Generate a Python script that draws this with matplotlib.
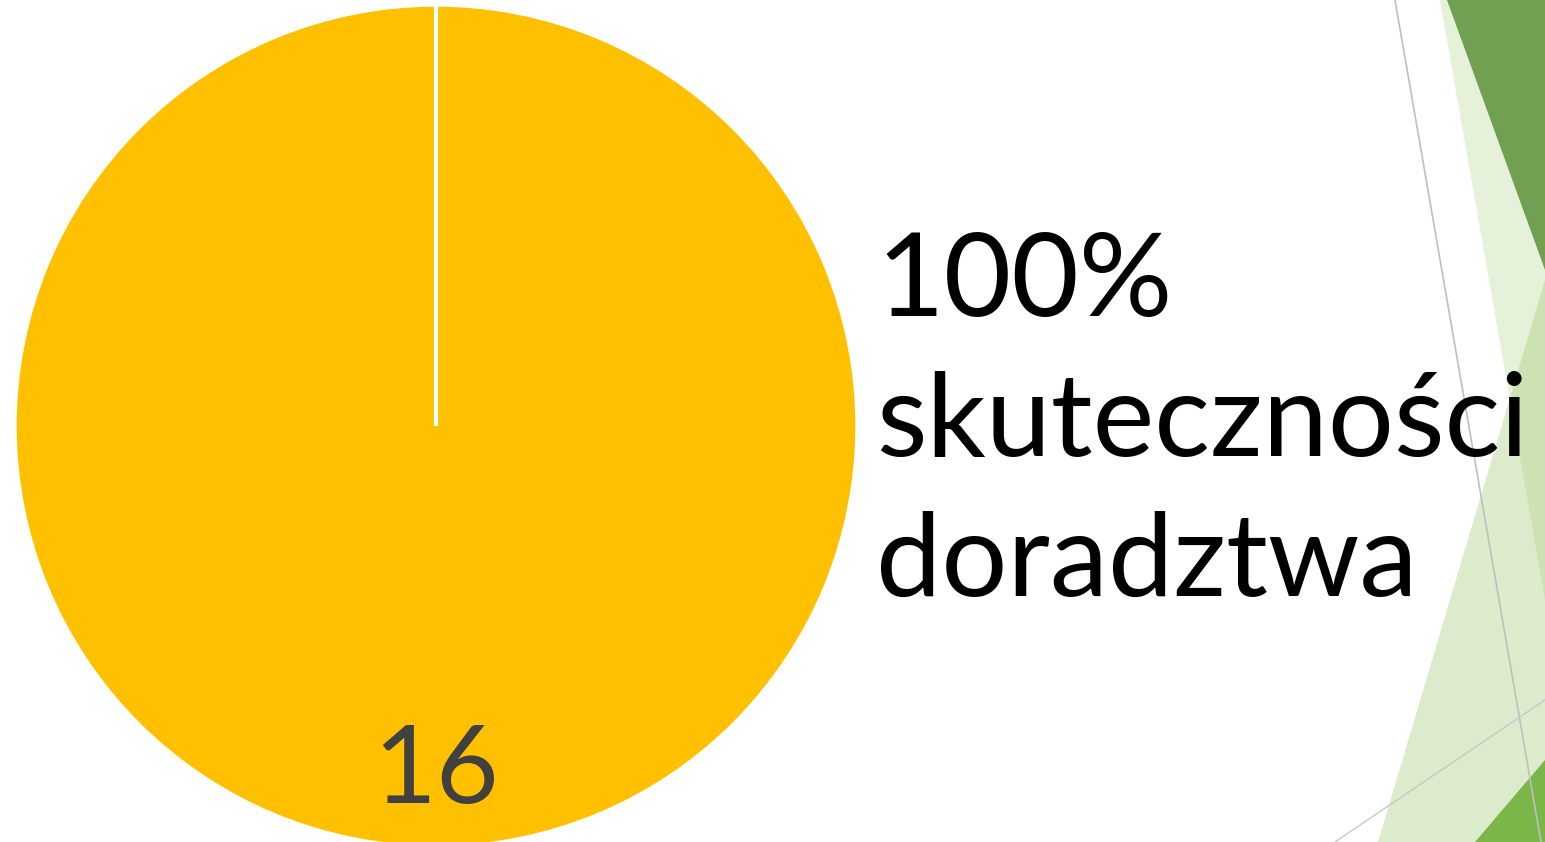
import numpy as np
import matplotlib
matplotlib.use('Agg')
from matplotlib import pyplot as plt
from matplotlib.patches import Polygon

W, H = 1545, 842
values = [16]
labels = ['16']
slice_colors = ['#FFC000']
headline = ['100%', 'skuteczności', 'doradztwa']

fig = plt.figure(figsize=(W/100., H/100.), dpi=100)
fig.patch.set_facecolor('white')

# background decoration in pixel coords
bg = fig.add_axes([0, 0, 1, 1])
bg.set_xlim(0, W)
bg.set_ylim(H, 0)
bg.axis('off')
bg.add_patch(Polygon([(1440, 0), (1545, 0), (1545, 600)], closed=True,
                     facecolor='#9CC86A', alpha=0.25, lw=0))
bg.add_patch(Polygon([(1378, 842), (1545, 842), (1545, 280)], closed=True,
                     facecolor='#9CC86A', alpha=0.35, lw=0))
bg.add_patch(Polygon([(1447, 0), (1545, 0), (1545, 270)], closed=True,
                     facecolor='#71A052', lw=0))
bg.add_patch(Polygon([(1475, 842), (1545, 842), (1545, 760)], closed=True,
                     facecolor='#7AB648', lw=0))
bg.plot([1395, 1541], [0, 842], color='#BFBFBF', lw=1.2)
bg.plot([1335, 1545], [842, 700], color='#C8C8C8', lw=1.0)

# pie
r = 420.
cx, cy = 436., 426.
ax = fig.add_axes([(cx - r)/W, (H - cy - r)/H, 2*r/W, 2*r/H])
wedges, texts = ax.pie(values, labels=labels, colors=slice_colors, startangle=90,
                       counterclock=False, labeldistance=0.825,
                       wedgeprops=dict(edgecolor='white', linewidth=1),
                       textprops=dict(fontsize=78, color='#404040', family='Lato',
                                      ha='center', va='center'))
# slice boundary (single slice -> only one radial edge)
for w in wedges:
    a = np.deg2rad(w.theta2)
    ax.plot([0, np.cos(a)*w.r], [0, np.sin(a)*w.r], color='white', lw=3,
            solid_capstyle='butt')
ax.set_xlim(-1, 1)
ax.set_ylim(-1, 1)
ax.set_aspect('auto')

# headline text
for i, line in enumerate(headline):
    fig.text(876/W, 1 - (316 + 140*i)/H, line, fontsize=84, family='Lato',
             color='black', ha='left', va='baseline')

fig.savefig('out.png', dpi=100)
